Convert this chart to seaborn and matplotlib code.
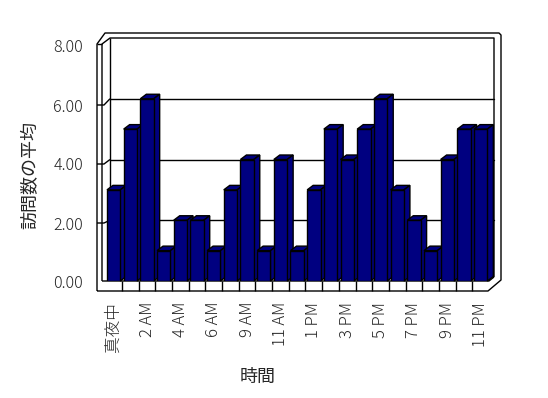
import numpy as np
import pandas as pd
import matplotlib
matplotlib.use('Agg')
import matplotlib.pyplot as plt
from matplotlib.patches import Polygon
import seaborn as sns

# データ（時間帯ごとの訪問数の平均、7 AM は無し）
hours = ['真夜中', '1 AM', '2 AM', '3 AM', '4 AM', '5 AM', '6 AM', '8 AM', '9 AM', '10 AM',
         '11 AM', '正午', '1 PM', '2 PM', '3 PM', '4 PM', '5 PM', '6 PM', '7 PM', '8 PM',
         '9 PM', '10 PM', '11 PM']
visits = [3, 5, 6, 1, 2, 2, 1, 3, 4, 1, 4, 1, 3, 5, 4, 5, 6, 3, 2, 1, 4, 5, 5]
y_ticks = [0, 2, 4, 6, 8]
shown = list(range(0, len(hours), 2))

W, H = 548, 398
NAVY = '#000080'

sns.set_style('white')
plt.rcParams['font.family'] = ['Noto Sans CJK JP', 'DejaVu Sans']
plt.rcParams['font.weight'] = 'light'

fig = plt.figure(figsize=(W / 100, H / 100), dpi=100)


def px_box(x0, y0, x1, y1):
    # ピクセル座標（左上原点）→ figure 座標
    return [x0 / W, 1 - y1 / H, (x1 - x0) / W, (y1 - y0) / H]


# 背景（壁・床の線）用の軸
bg = fig.add_axes([0, 0, 1, 1], zorder=0)
bg.set_xlim(0, W)
bg.set_ylim(H, 0)
bg.axis('off')

# 棒グラフ本体
ax = fig.add_axes(px_box(105.3, 38, 489, 281), zorder=1)
ax.patch.set_alpha(0)
df = pd.DataFrame({'hour': hours, 'visits': visits})
sns.barplot(data=df, x='hour', y='visits', color=NAVY, saturation=1, width=0.8,
            edgecolor='black', linewidth=1, errorbar=None, ax=ax)
ax.set_xlim(-0.5, len(hours) - 0.5)
ax.set_ylim(0, 8)
for s in ax.spines.values():
    s.set_visible(False)
ax.set_yticks([])
ax.set_ylabel('')
ax.set_xticks(shown)
ax.set_xticklabels([hours[i] for i in shown], rotation=90, fontsize=12)
ax.tick_params(axis='x', length=0, pad=15)
ax.set_xlabel('時間', fontsize=13)
ax.xaxis.set_label_coords(258 / W, 1 - 368 / H, transform=fig.transFigure)

# 奥の壁の目盛線
for v in y_ticks[1:4]:
    ax.axhline(v, xmin=(110 - 105.3) / 383.7, xmax=(494 - 105.3) / 383.7,
               color='black', lw=1, zorder=0.5, clip_on=False)


def to_bg(pts):
    return bg.transData.inverted().transform(ax.transData.transform(pts))


# 3D風の上面と側面
off = np.array([6, -4.5])
for i, bar in enumerate(ax.patches):
    x0, y0 = bar.get_x(), bar.get_y()
    x1, y1 = x0 + bar.get_width(), y0 + bar.get_height()
    tl, tr, br = to_bg([(x0, y1), (x1, y1), (x1, y0)])
    z = 2 + i * 0.01
    for face in ([tl, tr, tr + off, tl + off], [br, tr, tr + off, br + off]):
        ax.add_patch(Polygon(face, closed=True, fc=NAVY, ec='black', lw=1,
                             transform=bg.transData, zorder=z, clip_on=False))
    bar.set_zorder(z + 0.005)

# 手前の縦軸（目盛ラベル）
axf = fig.add_axes(px_box(97, 46, 98, 282), zorder=1)
axf.patch.set_alpha(0)
axf.set_ylim(0, 8)
axf.set_yticks(y_ticks)
axf.set_yticklabels([f'{v:.2f}' for v in y_ticks], fontsize=11.5)
axf.set_xticks([])
axf.tick_params(axis='y', length=0, pad=10)
for s in axf.spines.values():
    s.set_visible(False)
axf.set_ylabel('訪問数の平均', fontsize=13)
axf.yaxis.set_label_coords(39 / W, 1 - 175 / H, transform=fig.transFigure)

# 壁と床の枠線
line = dict(color='black', lw=1, solid_capstyle='butt')
bg.plot([97, 97, 105, 499, 501, 501, 488, 97], [291, 44, 33, 33, 35, 280, 291, 291], **line)
bg.plot([102, 102, 110, 494, 494], [281, 44, 38, 38, 277], **line)
bg.plot([110, 110], [38, 277], **line)
bg.plot([97, 102], [44, 44], **line)
bg.plot([102, 489, 494], [281, 281, 277], **line)
for i in range(len(hours) - 1):
    xb = to_bg([(i + 0.5, 0)])[0, 0]
    bg.plot([xb, xb], [281, 291], **line)
# 左の壁の目盛
for v in y_ticks[1:4]:
    yf = bg.transData.inverted().transform(axf.transData.transform([(0, v)]))[0, 1]
    yb = to_bg([(0, v)])[0, 1]
    bg.plot([97, 104, 110], [yf, yf, yb], **line)

fig.savefig('out.png', dpi=100)
